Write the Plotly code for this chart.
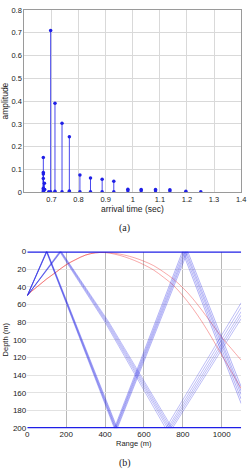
import plotly.graph_objects as go

# ---------------- (a) arrival amplitudes ----------------
arrival_time = [0.670, 0.670, 0.670, 0.670, 0.670, 0.670, 0.670, 0.674, 0.675,
                0.690, 0.697, 0.697, 0.713, 0.713, 0.739, 0.739, 0.766, 0.766, 0.766,
                0.805, 0.805, 0.844, 0.844, 0.887, 0.887, 0.930, 0.930,
                0.982, 0.982, 1.031, 1.031, 1.084, 1.084, 1.137, 1.137, 1.196, 1.251]
arrival_amp = [0.153, 0.087, 0.081, 0.061, 0.018, 0.010, 0.004, 0.040, 0.012,
               0.003, 0.710, 0.003, 0.391, 0.005, 0.303, 0.003, 0.244, 0.006, 0.004,
               0.076, 0.003, 0.063, 0.003, 0.057, 0.003, 0.049, 0.003,
               0.014, 0.007, 0.013, 0.007, 0.012, 0.007, 0.011, 0.006, 0.005, 0.003]
time_ticks = [0.7, 0.8, 0.9, 1.0, 1.1, 1.2, 1.3, 1.4]
time_labels = ["0.7", "0.8", "0.9", "1", "1.1", "1.2", "1.3", "1.4"]
amp_ticks = [0, 0.1, 0.2, 0.3, 0.4, 0.5, 0.6, 0.7, 0.8]
amp_labels = ["0", "0.1", "0.2", "0.3", "0.4", "0.5", "0.6", "0.7", "0.8"]

# ---------------- (b) ray paths (range m, depth m) ----------------
steep_rays_range = [
    [0, 98, 448, 798, 1100],
    [0, 99, 452, 805, 1100],
    [0, 100, 455, 812, 1100],
    [0, 101, 459, 818, 1100],
    [0, 102, 463, 825, 1100],
]
steep_rays_depth = [
    [50, 0, 200, 0, 172],
    [50, 0, 200, 0, 167],
    [50, 0, 200, 0, 162],
    [50, 0, 200, 0, 158],
    [50, 0, 200, 0, 153],
]
shallow_rays_range = [
    [0, 166, 400, 712, 1100],
    [0, 169, 405, 722, 1100],
    [0, 171, 410, 730, 1100],
    [0, 173, 415, 738, 1100],
    [0, 175, 420, 746, 1100],
]
shallow_rays_depth = [
    [50, 0, 80, 200, 58],
    [50, 0, 80, 200, 63],
    [50, 0, 80, 200, 68],
    [50, 0, 80, 200, 72],
    [50, 0, 80, 200, 76],
]
red_rays_range = [
    [0, 50, 100, 150, 200, 250, 300, 350, 400, 450, 500, 550, 600, 650, 700, 750, 800, 850, 900, 950, 1000, 1050, 1100],
    [0, 50, 100, 150, 200, 250, 300, 350, 400, 450, 500, 550, 600, 650, 700, 750, 800, 850, 900, 950, 1000, 1050, 1100],
]
red_rays_depth = [
    [49, 40, 31, 23, 15, 9, 4, 1.5, 1, 2, 4, 7, 11, 16, 23, 31, 41, 53, 67, 82, 97, 110, 123],
    [49, 40, 31, 23, 15, 9, 4, 1.5, 1.2, 3, 6, 10, 15, 21, 29, 38, 50, 64, 80, 98, 117, 136, 155],
]
boundary_depths = [0, 200]
range_limits = [0, 1100]
range_ticks = [0, 200, 400, 600, 800, 1000]
depth_ticks = [0, 20, 40, 60, 80, 100, 120, 140, 160, 180, 200]

BLUE = "#1f1fe6"
fig = go.Figure()

# stems for (a)
sx, sy = [], []
for t, a in zip(arrival_time, arrival_amp):
    sx += [t, t, None]
    sy += [0, a, None]
fig.add_trace(go.Scatter(x=sx, y=sy, mode="lines", line=dict(color="rgba(40,40,235,0.85)", width=1),
                         xaxis="x", yaxis="y", hoverinfo="skip", showlegend=False))
fig.add_trace(go.Scatter(x=arrival_time, y=arrival_amp, mode="markers",
                         marker=dict(color=BLUE, size=3.5), xaxis="x", yaxis="y", showlegend=False))

# rays for (b)
for rr, dd in zip(red_rays_range, red_rays_depth):
    fig.add_trace(go.Scatter(x=rr, y=dd, mode="lines", line=dict(color="rgba(240,60,60,0.55)", width=0.8, shape="spline"),
                             xaxis="x2", yaxis="y2", showlegend=False))
for rr, dd in zip(steep_rays_range, steep_rays_depth):
    fig.add_trace(go.Scatter(x=rr, y=dd, mode="lines", line=dict(color="rgba(40,40,230,0.35)", width=1),
                             xaxis="x2", yaxis="y2", showlegend=False))
for rr, dd in zip(shallow_rays_range, shallow_rays_depth):
    fig.add_trace(go.Scatter(x=rr, y=dd, mode="lines", line=dict(color="rgba(40,40,230,0.30)", width=1),
                             xaxis="x2", yaxis="y2", showlegend=False))
for d in boundary_depths:
    fig.add_trace(go.Scatter(x=range_limits, y=[d, d], mode="lines", line=dict(color=BLUE, width=2.5),
                             xaxis="x2", yaxis="y2", showlegend=False))

tickfont_a = dict(family="Liberation Sans, Arial", size=7.5, color="#222")
tickfont_b = dict(family="Liberation Sans, Arial", size=8, color="#222")
titlefont_a = dict(family="Liberation Sans, Arial", size=8.5, color="#222")
titlefont_b = dict(family="Liberation Sans, Arial", size=7.5, color="#222")
capfont = dict(family="Liberation Serif, Times New Roman", size=10, color="#222")

def py(pix):
    return (474 - pix) / 474

fig.update_layout(
    width=252, height=474, margin=dict(l=0, r=0, t=0, b=0),
    paper_bgcolor="white", plot_bgcolor="white",
    xaxis=dict(domain=[23/252, 246/252], range=[0.6, 1.4], tickvals=time_ticks, ticktext=time_labels,
               showgrid=True, gridcolor="#d9d9d9", gridwidth=1, zeroline=False,
               showline=True, linecolor="#9a9a9a", linewidth=1, mirror=True, ticks="",
               tickfont=tickfont_a, ticklabeloverflow="allow", anchor="y"),
    yaxis=dict(domain=[py(192), py(6)], range=[0, 0.8], tickvals=amp_ticks, ticktext=amp_labels,
               showgrid=True, gridcolor="#d9d9d9", gridwidth=1, zeroline=False,
               showline=True, linecolor="#9a9a9a", linewidth=1, mirror=True, ticks="",
               tickfont=tickfont_a, ticklabeloverflow="allow", anchor="x"),
    xaxis2=dict(domain=[26/252, 246/252], range=[0, 1100], tickvals=range_ticks,
                showgrid=True, gridcolor="#b8b8b8", gridwidth=1, zeroline=False,
                showline=False, ticks="", tickfont=tickfont_b, ticklabeloverflow="allow", anchor="y2"),
    yaxis2=dict(domain=[py(432.5), py(252.3)], range=[200, 0], tickvals=depth_ticks,
                showgrid=True, gridcolor="#e2e2e2", gridwidth=1, zeroline=False,
                showline=False, ticks="", tickfont=tickfont_b, ticklabeloverflow="allow", anchor="x2"),
    annotations=[
        dict(text="arrival time (sec)", x=(23 + 246) / 2 / 252, y=py(209), xref="paper", yref="paper",
             showarrow=False, xanchor="center", yanchor="middle", font=titlefont_a),
        dict(text="amplitude", x=3.5 / 252, y=py(99), xref="paper", yref="paper", textangle=-90,
             showarrow=False, xanchor="center", yanchor="middle", font=titlefont_a),
        dict(text="Range (m)", x=(26 + 246) / 2 / 252, y=py(448.5), xref="paper", yref="paper",
             showarrow=False, xanchor="center", yanchor="middle", font=titlefont_b),
        dict(text="Depth (m)", x=4 / 252, y=py(342), xref="paper", yref="paper", textangle=-90,
             showarrow=False, xanchor="center", yanchor="middle", font=titlefont_b),
        dict(text="(a)", x=0.5, y=py(228), xref="paper", yref="paper", showarrow=False,
             xanchor="center", yanchor="middle", font=capfont),
        dict(text="(b)", x=0.5, y=py(467.5), xref="paper", yref="paper", showarrow=False,
             xanchor="center", yanchor="middle", font=capfont),
    ],
)

fig.write_html("out.html")
